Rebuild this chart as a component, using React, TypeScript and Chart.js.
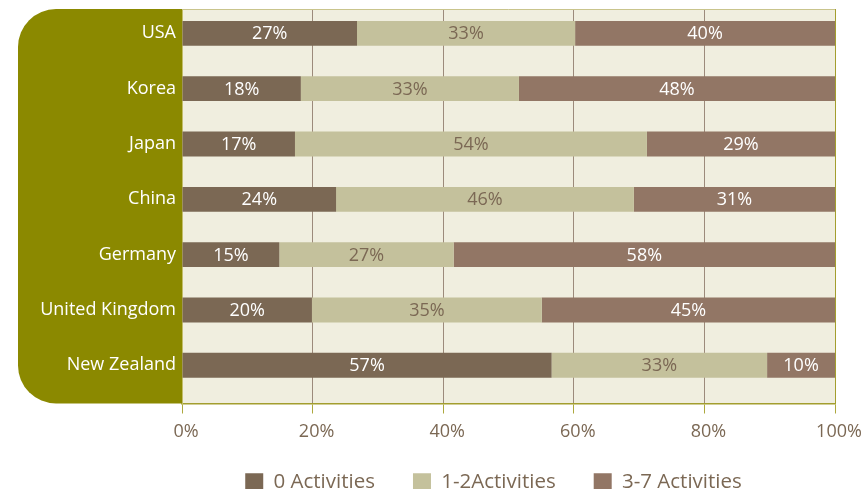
import { useEffect, useRef } from 'react';
import { Chart, registerables } from 'chart.js';

Chart.register(...registerables);

// ---- data (percent of respondents) ----
const countries = ['USA', 'Korea', 'Japan', 'China', 'Germany', 'United Kingdom', 'New Zealand'];
const seriesNames = ['0 Activities', '1-2Activities', '3-7 Activities'];
const zeroActivities = [26.8, 18.2, 17.3, 23.6, 14.9, 19.9, 56.6];
const oneTwoActivities = [33.4, 33.4, 53.9, 45.6, 26.7, 35.2, 33.0];
const threeSevenActivities = [39.8, 48.4, 28.8, 30.8, 58.4, 44.9, 10.4];
const xTickStep = 20;
const xMin = 0;
const xMax = 100;

// ---- styles ----
const COLORS = ['#7B6854', '#C4C19C', '#927665'];
const LABEL_COLORS = ['#FFFFFF', '#7B6854', '#FFFFFF'];
const OLIVE = '#8B8900';
const CREAM = '#F0EEDF';
const TEXT_BROWN = '#7B6854';
const FONT = '"Open Sans", "DejaVu Sans", sans-serif';

const seriesValues = [zeroActivities, oneTwoActivities, threeSevenActivities];

const backgroundPlugin = {
  id: 'bgPanels',
  afterLayout(chart: any) {
    // position the legend row like the reference
    const lg = chart.legend;
    if (lg) {
      lg.left = 152;
      lg.top -= 14.5;
      lg.bottom -= 14.5;
    }
  },
  beforeDraw(chart: any) {
    const { ctx, chartArea } = chart;
    const { left, right, top, bottom } = chartArea;
    ctx.save();
    ctx.fillStyle = CREAM;
    ctx.fillRect(left, top, right - left, bottom - top);
    const x0 = 18;
    const r = 38;
    ctx.fillStyle = OLIVE;
    ctx.beginPath();
    ctx.moveTo(left, top);
    ctx.lineTo(x0 + r, top);
    ctx.arcTo(x0, top, x0, top + r, r);
    ctx.lineTo(x0, bottom - r);
    ctx.arcTo(x0, bottom, x0 + r, bottom, r);
    ctx.lineTo(left, bottom);
    ctx.closePath();
    ctx.fill();
    ctx.restore();
  },
  beforeDatasetsDraw(chart: any) {
    const { ctx, chartArea } = chart;
    ctx.save();
    ctx.strokeStyle = '#C9C48C';
    ctx.lineWidth = 1;
    ctx.beginPath();
    ctx.moveTo(chartArea.left, chartArea.top + 0.5);
    ctx.lineTo(chartArea.right, chartArea.top + 0.5);
    ctx.stroke();
    ctx.restore();
  },
};

const valueLabelPlugin = {
  id: 'valueLabels',
  afterDatasetsDraw(chart: any) {
    const ctx = chart.ctx;
    ctx.save();
    ctx.font = `18px ${FONT}`;
    ctx.textAlign = 'center';
    ctx.textBaseline = 'middle';
    chart.data.datasets.forEach((ds: any, di: number) => {
      const meta = chart.getDatasetMeta(di);
      meta.data.forEach((el: any, i: number) => {
        const v = Math.round(seriesValues[di][i]);
        ctx.fillStyle = LABEL_COLORS[di];
        ctx.fillText(`${v}%`, (el.x + el.base) / 2, el.y + 1);
      });
    });
    ctx.restore();
  },
};

export default function App() {
  const ref = useRef<HTMLCanvasElement | null>(null);

  useEffect(() => {
    document.body.style.margin = '0';
    const canvas = ref.current;
    if (!canvas) return;
    Chart.defaults.font.family = FONT;

    const datasets = seriesValues.map((vals, si) => ({
      label: seriesNames[si],
      data: vals.map((v, i) => ({ x: v, y: i })),
      backgroundColor: COLORS[si],
      borderWidth: 0,
      barPercentage: 0.45,
      categoryPercentage: 1,
    }));

    const chart = new Chart(canvas, {
      type: 'bar',
      data: { datasets },
      plugins: [backgroundPlugin, valueLabelPlugin],
      options: {
        indexAxis: 'y',
        responsive: false,
        animation: false,
        layout: { padding: { left: 0, right: 26, top: 9, bottom: -28 } },
        plugins: {
          tooltip: { enabled: false },
          legend: {
            position: 'bottom',
            labels: {
              boxWidth: 18,
              boxHeight: 18,
              padding: 38,
              color: TEXT_BROWN,
              font: { family: FONT, size: 20.5 },
            },
          },
        },
        scales: {
          x: {
            type: 'linear',
            stacked: true,
            min: xMin,
            max: xMax,
            afterFit(scale: any) {
              scale.height = 45;
              scale.paddingLeft = 0;
              scale.paddingRight = 0;
            },
            ticks: {
              stepSize: xTickStep,
              color: TEXT_BROWN,
              font: { family: FONT, size: 18 },
              padding: 8,
              labelOffset: 4,
              callback: (v: any) => `${v}%`,
            },
            grid: {
              color: (c: any) => (c.index === 0 ? 'rgba(0,0,0,0)' : c.index === 5 ? '#A39E2E' : '#9C8A7B'),
              lineWidth: 1,
              tickColor: '#ADA83E',
              tickLength: 10,
            },
            border: { color: '#A39E2E', width: 1.5 },
          },
          y: {
            type: 'linear',
            stacked: true,
            reverse: true,
            offset: false,
            min: -0.44,
            max: 6.69,
            afterFit(scale: any) {
              scale.width = 182;
              scale.paddingTop = 0;
              scale.paddingBottom = 0;
            },
            ticks: {
              stepSize: 1,
              includeBounds: false,
              autoSkip: false,
              color: '#FFFFFF',
              padding: 6,
              font: { family: FONT, size: 18 },
              callback: (v: any) => countries[v] ?? '',
            },
            grid: { display: false, drawTicks: false, tickLength: 0, offset: false },
            border: { color: '#C2BD6A', width: 1 },
          },
        },
      },
    } as any);

    return () => chart.destroy();
  }, []);

  return <canvas ref={ref} width={861} height={489} style={{ display: 'block', width: 861, height: 489 }} />;
}
